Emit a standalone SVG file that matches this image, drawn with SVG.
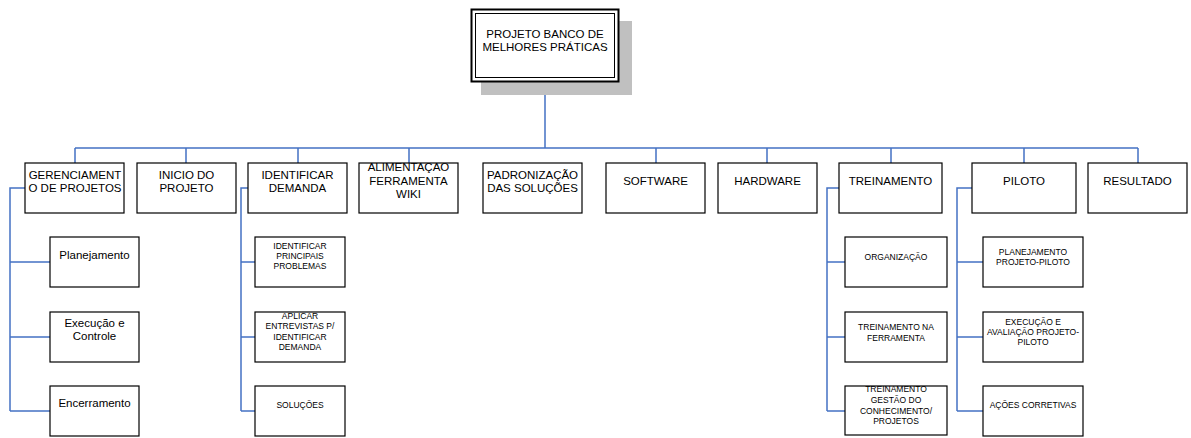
<svg xmlns="http://www.w3.org/2000/svg" width="1191" height="438" viewBox="0 0 1191 438">
<style>
.box{fill:#fff;stroke:#000;stroke-width:1.2}
.t{font-family:"Liberation Sans",Arial,sans-serif;font-size:11.5px;fill:#000;text-anchor:middle}
.s{font-family:"Liberation Sans",Arial,sans-serif;font-size:8.5px;fill:#000;text-anchor:middle}
.c{fill:none;stroke:#4472c4;stroke-width:1.5}
</style>
<defs>
<clipPath id="clipAlim"><rect x="359" y="163" width="99" height="50"/></clipPath>
<clipPath id="clipApl"><rect x="255" y="312" width="90" height="50"/></clipPath>
<clipPath id="clipTgc"><rect x="845" y="386" width="102" height="50"/></clipPath>
</defs>
<rect width="1191" height="438" fill="#fff"/>
<g id="connectors">
<path class="c" d="M545 82V148M75 148H1138M75 148V163M186 148V163M298 148V163M409 148V163M656 148V163M767 148V163M891 148V163M1024 148V163M1138 148V163"/>
<path class="c" d="M25 188H10V411M10 262H50M10 337H50M10 411H50"/>
<path class="c" d="M248 188H241V411M241 262H255M241 337H255M241 411H255"/>
<path class="c" d="M839 188H827V411M827 262H845M827 337H845M827 411H845"/>
<path class="c" d="M972 188H957V411M957 262H983M957 337H983M957 411H983"/>
</g>
<g id="root">
<rect x="481" y="21" width="151" height="74" fill="#c0c0c0"/>
<rect x="471.5" y="9.5" width="147" height="72" fill="#fff" stroke="#000" stroke-width="2"/>
<rect x="475.5" y="13.5" width="139" height="64" fill="none" stroke="#000" stroke-width="1"/>
<text class="t" x="545" y="37.5">PROJETO BANCO DE</text>
<text class="t" x="545" y="50.5">MELHORES PRÁTICAS</text>
</g>
<g id="gerenciamento">
<rect class="box" x="25" y="163" width="99" height="50"/>
<text class="t" x="75" y="178.5">GERENCIAMENT</text>
<text class="t" x="75" y="192">O DE PROJETOS</text>
</g>
<g id="inicio">
<rect class="box" x="137" y="163" width="99" height="50"/>
<text class="t" x="186.5" y="178.5">INICIO DO</text>
<text class="t" x="186.5" y="192">PROJETO</text>
</g>
<g id="identificar">
<rect class="box" x="248" y="163" width="99" height="50"/>
<text class="t" x="297.5" y="178.5">IDENTIFICAR</text>
<text class="t" x="297.5" y="192">DEMANDA</text>
</g>
<g id="alimentacao">
<rect class="box" x="359" y="163" width="99" height="50"/>
<g clip-path="url(#clipAlim)">
<text class="t" x="408.5" y="171">ALIMENTAÇÃO</text>
</g>
<text class="t" x="408.5" y="184.5">FERRAMENTA</text>
<text class="t" x="408.5" y="198">WIKI</text>
</g>
<g id="padronizacao">
<rect class="box" x="483" y="163" width="99" height="50"/>
<text class="t" x="532.5" y="178.5">PADRONIZAÇÃO</text>
<text class="t" x="532.5" y="192">DAS SOLUÇÕES</text>
</g>
<g id="software">
<rect class="box" x="606" y="163" width="99" height="50"/>
<text class="t" x="655.5" y="185">SOFTWARE</text>
</g>
<g id="hardware">
<rect class="box" x="718" y="163" width="99" height="50"/>
<text class="t" x="767.5" y="185">HARDWARE</text>
</g>
<g id="treinamento">
<rect class="box" x="839" y="163" width="103" height="50"/>
<text class="t" x="890.5" y="185">TREINAMENTO</text>
</g>
<g id="piloto">
<rect class="box" x="972" y="163" width="104" height="50"/>
<text class="t" x="1024" y="185">PILOTO</text>
</g>
<g id="resultado">
<rect class="box" x="1088" y="163" width="99" height="50"/>
<text class="t" x="1137.5" y="185">RESULTADO</text>
</g>
<g id="planejamento">
<rect class="box" x="50" y="237" width="89" height="50"/>
<text class="t" x="94.5" y="258.5">Planejamento</text>
</g>
<g id="execucao">
<rect class="box" x="50" y="312" width="89" height="50"/>
<text class="t" x="94.5" y="326.5">Execução e</text>
<text class="t" x="94.5" y="340">Controle</text>
</g>
<g id="encerramento">
<rect class="box" x="50" y="386" width="89" height="50"/>
<text class="t" x="94.5" y="407">Encerramento</text>
</g>
<g id="identificar-problemas">
<rect class="box" x="255" y="237" width="90" height="50"/>
<text class="s" x="300" y="249">IDENTIFICAR</text>
<text class="s" x="300" y="259">PRINCIPAIS</text>
<text class="s" x="300" y="269">PROBLEMAS</text>
</g>
<g id="aplicar-entrevistas">
<rect class="box" x="255" y="312" width="90" height="50"/>
<g clip-path="url(#clipApl)">
<text class="s" x="300" y="318.5">APLICAR</text>
</g>
<text class="s" x="300" y="329">ENTREVISTAS P/</text>
<text class="s" x="300" y="339.5">IDENTIFICAR</text>
<text class="s" x="300" y="350">DEMANDA</text>
</g>
<g id="solucoes">
<rect class="box" x="255" y="386" width="90" height="50"/>
<text class="s" x="300" y="407.5">SOLUÇÕES</text>
</g>
<g id="organizacao">
<rect class="box" x="845" y="237" width="102" height="50"/>
<text class="s" x="896" y="259.5">ORGANIZAÇÃO</text>
</g>
<g id="treinamento-ferramenta">
<rect class="box" x="845" y="312" width="102" height="50"/>
<text class="s" x="896" y="330">TREINAMENTO NA</text>
<text class="s" x="896" y="340.5">FERRAMENTA</text>
</g>
<g id="treinamento-gestao">
<rect class="box" x="845" y="386" width="102" height="49"/>
<g clip-path="url(#clipTgc)">
<text class="s" x="896" y="392">TREINAMENTO</text>
</g>
<text class="s" x="896" y="403">GESTÃO DO</text>
<text class="s" x="896" y="413.5">CONHECIMENTO/</text>
<text class="s" x="896" y="424">PROJETOS</text>
</g>
<g id="planejamento-piloto">
<rect class="box" x="983" y="237" width="100" height="50"/>
<text class="s" x="1033" y="254.5">PLANEJAMENTO</text>
<text class="s" x="1033" y="265">PROJETO-PILOTO</text>
</g>
<g id="execucao-piloto">
<rect class="box" x="983" y="312" width="100" height="50"/>
<text class="s" x="1033" y="324.5">EXECUÇÃO E</text>
<text class="s" x="1033" y="335">AVALIAÇÃO PROJETO-</text>
<text class="s" x="1033" y="345">PILOTO</text>
</g>
<g id="acoes-corretivas">
<rect class="box" x="983" y="386" width="100" height="50"/>
<text class="s" x="1033" y="407.5">AÇÕES CORRETIVAS</text>
</g>
</svg>
